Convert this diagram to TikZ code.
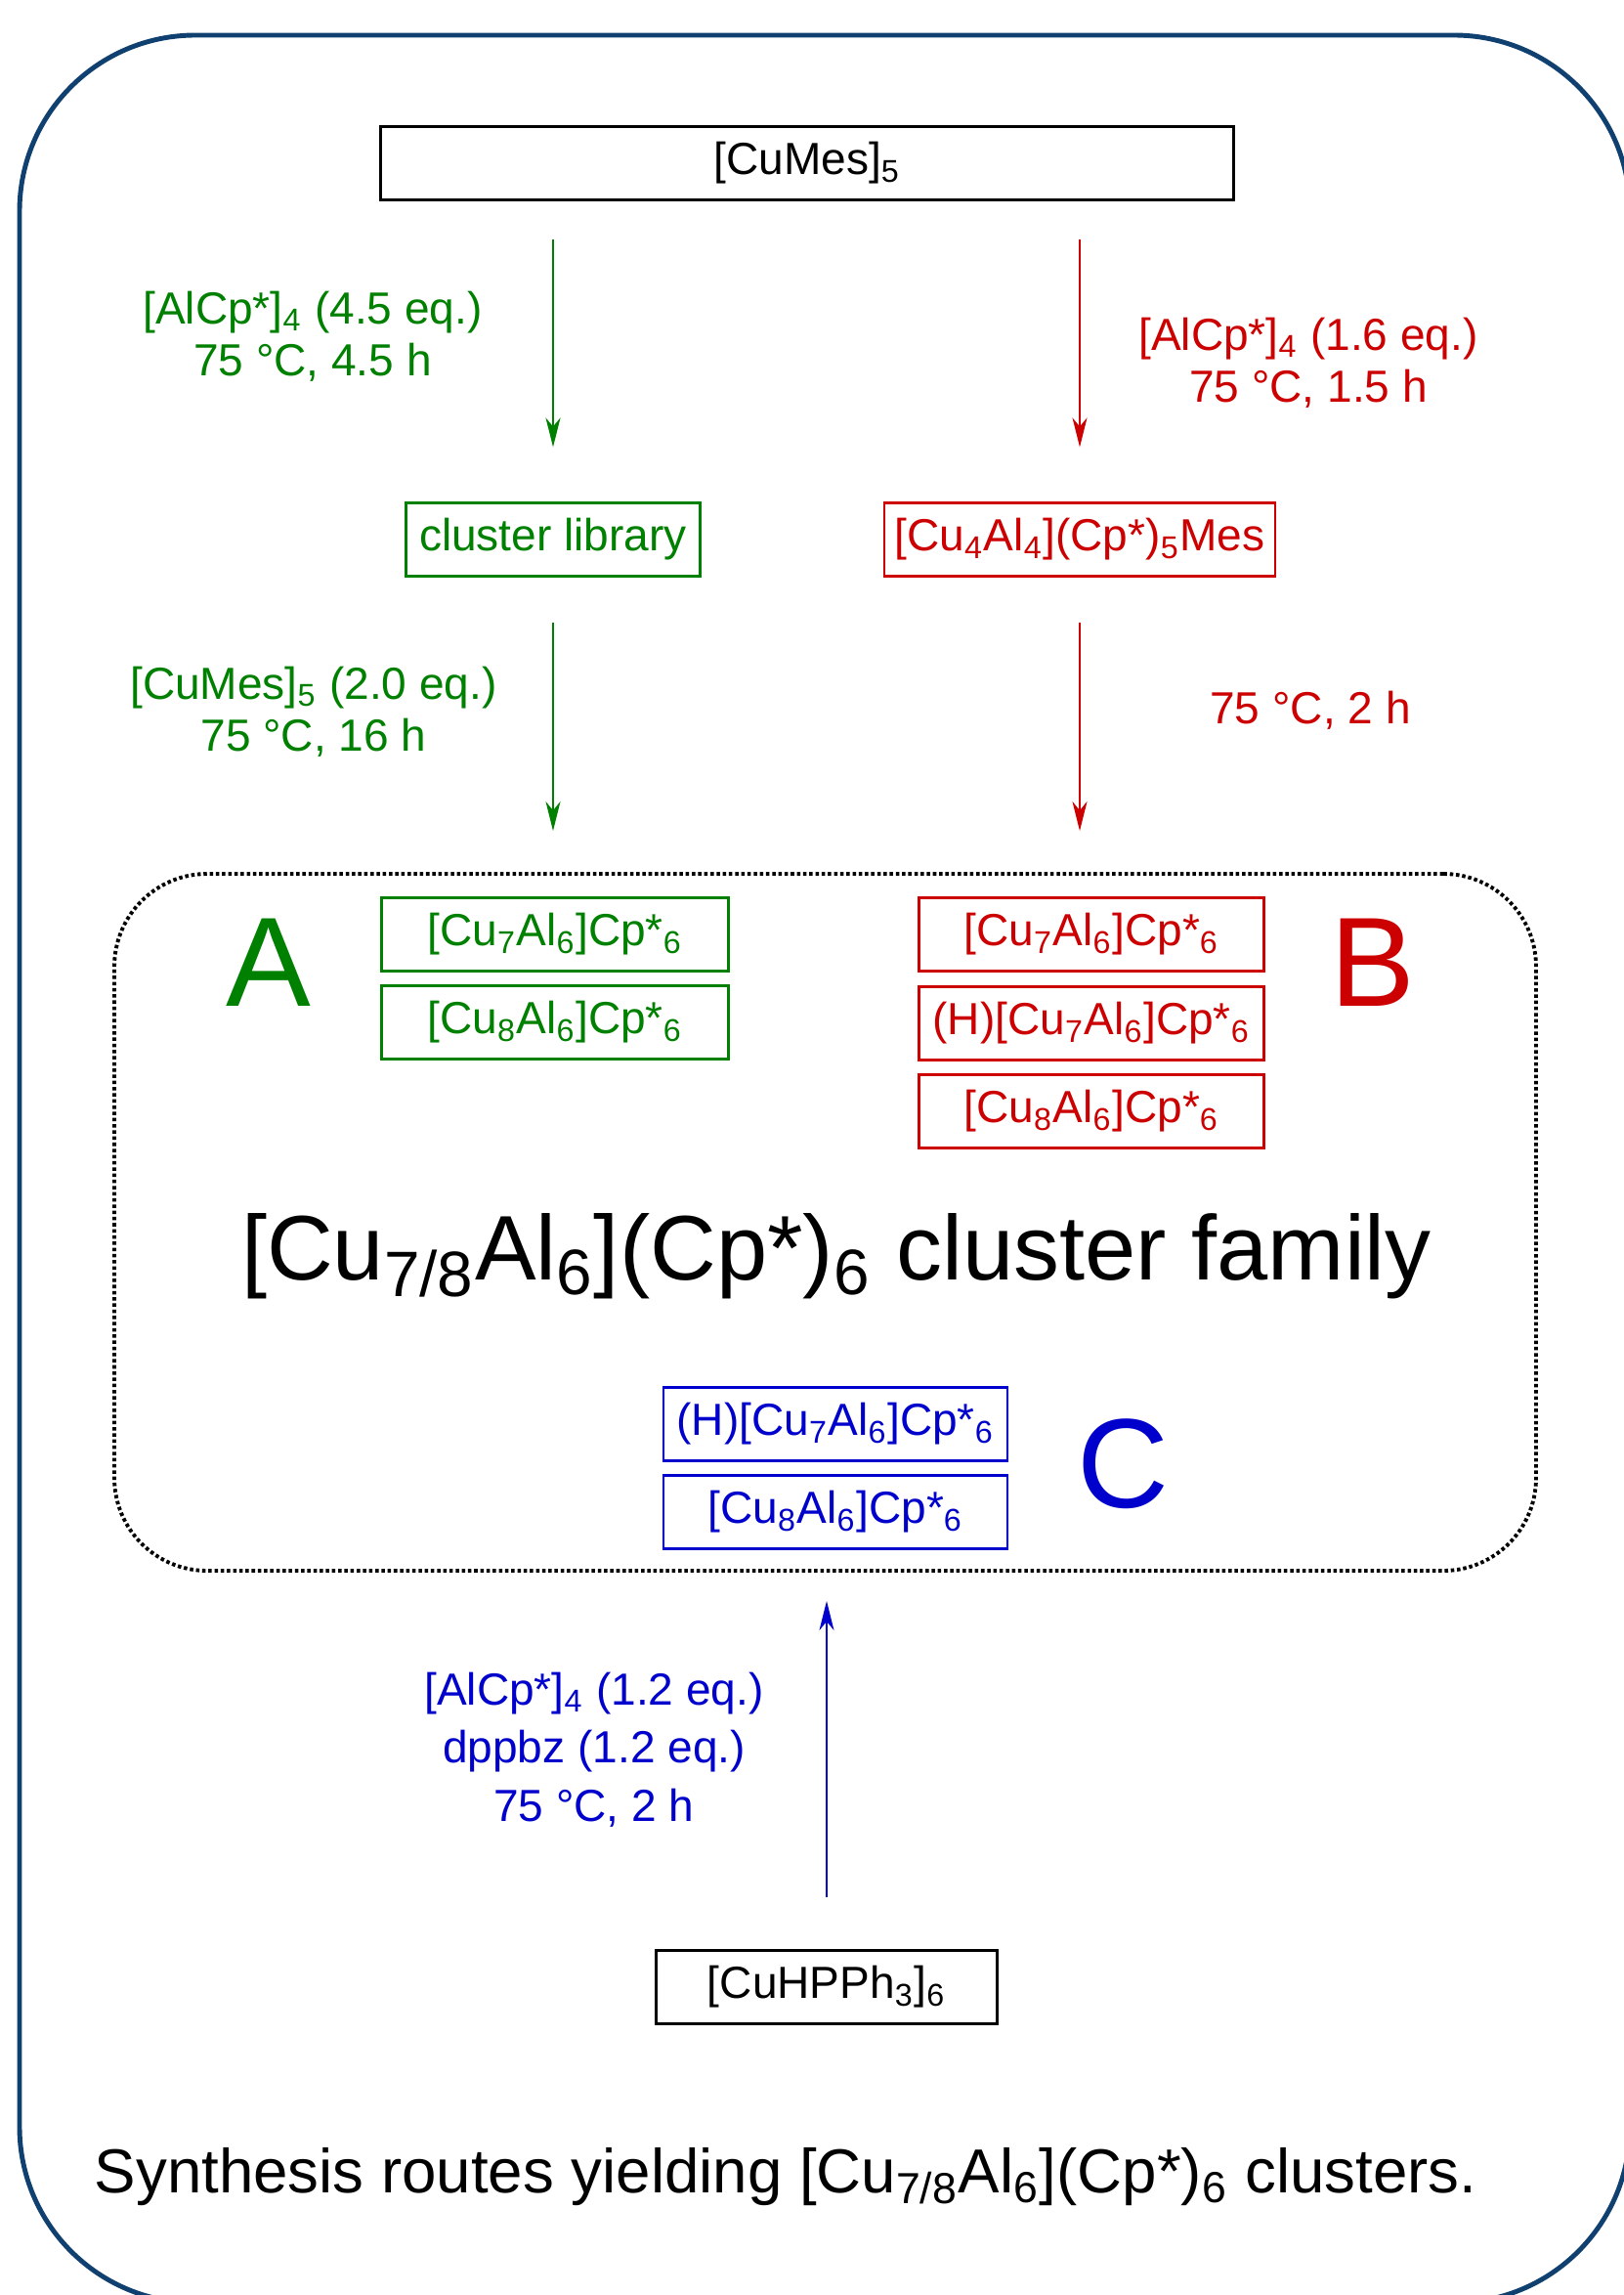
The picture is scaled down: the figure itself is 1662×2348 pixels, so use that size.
\documentclass[tikz,border=0pt]{standalone}
\usepackage{fontspec}
\setmainfont{Liberation Sans}
\usepackage{tikz}
\usetikzlibrary{arrows.meta}
\definecolor{vert}{RGB}{0,128,0}
\definecolor{rouge}{RGB}{204,0,0}
\definecolor{bleu}{RGB}{0,0,204}
\definecolor{marine}{RGB}{16,64,112}
\tikzset{
Boite/.style={
 draw, 
 line width=0.6pt, 
 minimum height=7.5mm, 
 inner sep=0pt, 
 font=\fontsize{13.1}{15}\selectfont
 },
VBoite/.style={
 Boite, 
 draw=vert, 
 text=vert, 
 minimum width=35.5mm
 },
RBoite/.style={
 Boite, 
 draw=rouge, 
 text=rouge, 
 minimum width=35.3mm
 },
BBoite/.style={
 Boite, 
 draw=bleu, 
 text=bleu, 
 minimum width=35.2mm
 },
Fleche/.style={
 line width=0.65pt, 
 -{Stealth[length=3mm,width=1.5mm,inset=0.9mm]}
 },
Cond/.style={
 align=center, 
 inner sep=0pt, 
 font=\fontsize{13.1}{15.2}\selectfont
 },
Lettre/.style={
 inner sep=0pt, 
 font=\fontsize{37}{37}\selectfont
 },
Famille/.style={
 draw=black, 
 line width=1.1pt, 
 dash pattern=on 1pt off 0.8pt, 
 rounded corners=9.5mm, 
 minimum width=145.5mm, 
 minimum height=71.3mm
 }
}
\begin{document}
\begin{tikzpicture}[x=0.1mm,y=-0.1mm]
\useasboundingbox (0,0) rectangle (1662,2348);
\draw[marine,line width=1.4pt,rounded corners=18mm] (20,36) rectangle (1668,2356);
\node[Boite,minimum width=87.3mm] (cumes) at (826,167) {[CuMes]\textsubscript{5}};
\node[VBoite,minimum width=30.1mm] (lib) at (566,552) {cluster library};
\node[RBoite,minimum width=40mm] (mes) at (1105,552) {[Cu\textsubscript{4}Al\textsubscript{4}](Cp*)\textsubscript{5}Mes};
\node[Famille] (fam) at (844.5,1250.5) {};
\node[VBoite] (a7) at (568,956) {[Cu\textsubscript{7}Al\textsubscript{6}]Cp*\textsubscript{6}};
\node[VBoite] (a8) at (568,1046) {[Cu\textsubscript{8}Al\textsubscript{6}]Cp*\textsubscript{6}};
\node[RBoite] (b7) at (1117,956) {[Cu\textsubscript{7}Al\textsubscript{6}]Cp*\textsubscript{6}};
\node[RBoite] (bh) at (1117,1047) {(H)[Cu\textsubscript{7}Al\textsubscript{6}]Cp*\textsubscript{6}};
\node[RBoite] (b8) at (1117,1137) {[Cu\textsubscript{8}Al\textsubscript{6}]Cp*\textsubscript{6}};
\node[BBoite] (ch) at (855,1457) {(H)[Cu\textsubscript{7}Al\textsubscript{6}]Cp*\textsubscript{6}};
\node[BBoite] (c8) at (855,1547) {[Cu\textsubscript{8}Al\textsubscript{6}]Cp*\textsubscript{6}};
\node[Boite,minimum width=34.9mm] (hpph) at (846,2033) {[CuHPPh\textsubscript{3}]\textsubscript{6}};
\node[Lettre,text=vert] (la) at (275,985) {A};
\node[Lettre,text=rouge] (lb) at (1405,985) {B};
\node[Lettre,text=bleu] (lc) at (1149,1498) {C};
\node[anchor=base,inner sep=0pt,font=\fontsize{26.7}{30}\selectfont] (titre) at (856,1309) {[Cu\textsubscript{7/8}Al\textsubscript{6}](Cp*)\textsubscript{6} cluster family};
\node[anchor=base,inner sep=0pt,font=\fontsize{18.1}{21}\selectfont] (legende) at (804,2243) {Synthesis routes yielding [Cu\textsubscript{7/8}Al\textsubscript{6}](Cp*)\textsubscript{6} clusters.};
\draw[Fleche,vert,shorten <=3.9mm,shorten >=5.6mm] (cumes.south -| lib.north) -- (lib.north);
\draw[Fleche,rouge,shorten <=3.9mm,shorten >=5.6mm] (cumes.south -| mes.north) -- (mes.north);
\draw[Fleche,vert,shorten <=4.6mm,shorten >=4.2mm] (lib.south) -- (lib.south |- fam.north);
\draw[Fleche,rouge,shorten <=4.6mm,shorten >=4.2mm] (mes.south) -- (mes.south |- fam.north);
\draw[Fleche,bleu,shorten <=5.3mm,shorten >=2.9mm] (hpph.north) -- (hpph.north |- fam.south);
\node[Cond,text=vert] (cv1) at (320,344) {[AlCp*]\textsubscript{4} (4.5 eq.)\\75 °C, 4.5 h};
\node[Cond,text=rouge] (cr1) at (1339,371) {[AlCp*]\textsubscript{4} (1.6 eq.)\\75 °C, 1.5 h};
\node[Cond,text=vert] (cv2) at (321,728) {[CuMes]\textsubscript{5} (2.0 eq.)\\75 °C, 16 h};
\node[Cond,text=rouge] (cr2) at (1341,727) {75 °C, 2 h};
\node[Cond,text=bleu,font=\fontsize{13.1}{17}\selectfont] (cb) at (608,1790) {[AlCp*]\textsubscript{4} (1.2 eq.)\\dppbz (1.2 eq.)\\75 °C, 2 h};
\end{tikzpicture}
\end{document}
